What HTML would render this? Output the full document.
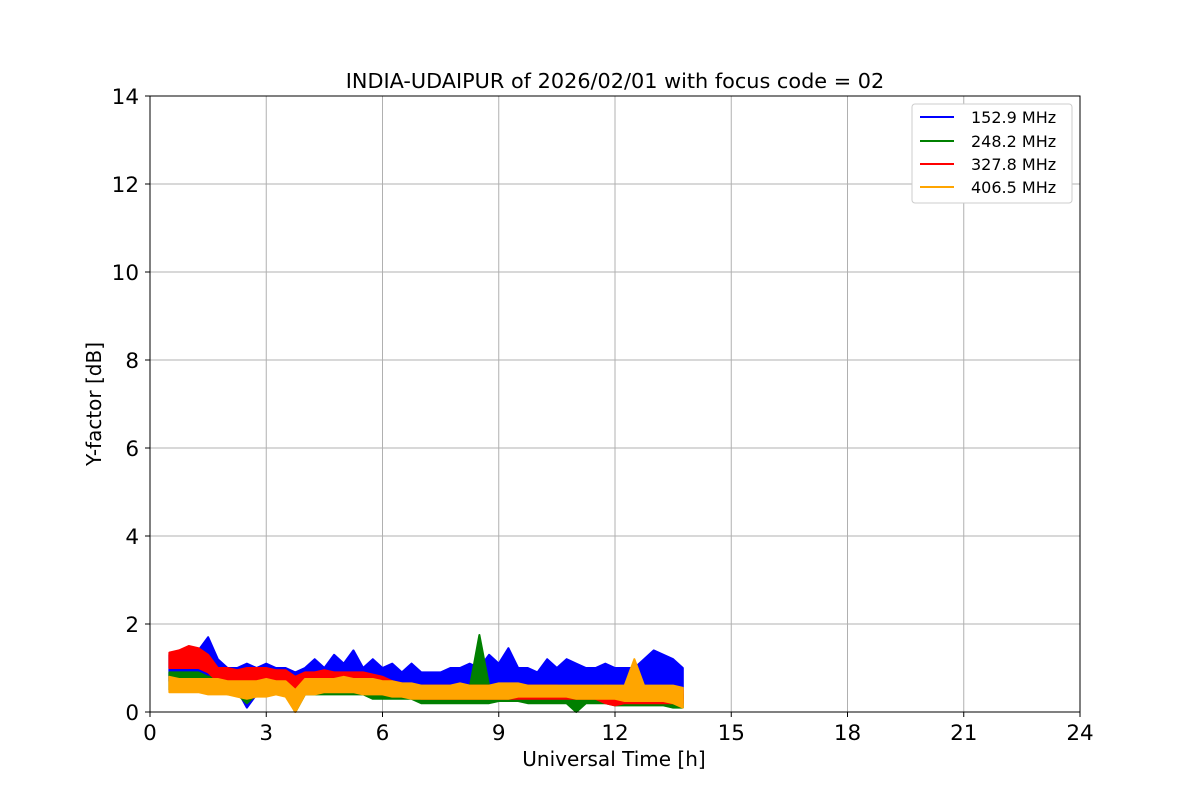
<!DOCTYPE html>
<html><head><meta charset="utf-8">
<style>
body{margin:0;background:#fff;}
svg{display:block;font-family:"DejaVu Sans","Liberation Sans",sans-serif;}
</style></head>
<body>
<svg id="chart" width="1200" height="800">
<text x="615" y="88" font-size="20.8" text-anchor="middle">INDIA-UDAIPUR of 2026/02/01 with focus code = 02</text>
<text x="614" y="766" font-size="20" text-anchor="middle">Universal Time [h]</text>
<text transform="translate(101,404) rotate(-90)" font-size="20" text-anchor="middle">Y-factor [dB]</text>
<g id="grid"></g><g id="ticks"></g><g id="series"></g>
<rect x="150" y="96" width="930" height="616" fill="none" stroke="#000" stroke-width="1"/>
<g>
<rect x="912" y="104" width="160" height="99" rx="3" fill="#fff" stroke="#ccc"/>
<line x1="920" x2="954" y1="117" y2="117" stroke="blue" stroke-width="2"/>
<text x="971" y="123" font-size="16">152.9 MHz</text>
<line x1="920" x2="954" y1="141" y2="141" stroke="green" stroke-width="2"/>
<text x="971" y="147" font-size="16">248.2 MHz</text>
<line x1="920" x2="954" y1="164" y2="164" stroke="red" stroke-width="2"/>
<text x="971" y="170" font-size="16">327.8 MHz</text>
<line x1="920" x2="954" y1="187" y2="187" stroke="orange" stroke-width="2"/>
<text x="971" y="193" font-size="16">406.5 MHz</text>
</g>
</svg>
<script>
const xTicks=[0,3,6,9,12,15,18,21,24];
const yTicks=[0,2,4,6,8,10,12,14];
const times=[0.5,0.75,1.0,1.25,1.5,1.75,2.0,2.25,2.5,2.75,3.0,3.25,3.5,3.75,4.0,4.25,4.5,4.75,5.0,5.25,5.5,5.75,6.0,6.25,6.5,6.75,7.0,7.25,7.5,7.75,8.0,8.25,8.5,8.75,9.0,9.25,9.5,9.75,10.0,10.25,10.5,10.75,11.0,11.25,11.5,11.75,12.0,12.25,12.5,12.75,13.0,13.25,13.5,13.75];
const blueHi=[1.3,1.2,1.3,1.4,1.7,1.2,1.0,1.0,1.1,1.0,1.1,1.0,1.0,0.9,1.0,1.2,1.0,1.3,1.1,1.4,1.0,1.2,1.0,1.1,0.9,1.1,0.9,0.9,0.9,1.0,1.0,1.1,1.0,1.3,1.1,1.45,1.0,1.0,0.9,1.2,1.0,1.2,1.1,1.0,1.0,1.1,1.0,1.0,1.0,1.2,1.4,1.3,1.2,1.0];
const blueLo=[0.7,0.7,0.7,0.7,0.7,0.6,0.6,0.5,0.1,0.4,0.5,0.5,0.5,0.0,0.5,0.5,0.6,0.6,0.6,0.6,0.6,0.5,0.5,0.5,0.5,0.5,0.4,0.4,0.4,0.4,0.4,0.4,0.5,0.5,0.5,0.5,0.5,0.5,0.5,0.5,0.5,0.5,0.5,0.4,0.4,0.4,0.4,0.4,0.4,0.4,0.4,0.4,0.4,0.3];
const greenHi=[0.9,0.9,0.9,0.9,0.8,0.8,0.8,0.75,0.75,0.8,0.8,0.8,0.8,0.6,0.7,0.7,0.7,0.7,0.7,0.7,0.7,0.7,0.6,0.6,0.6,0.55,0.5,0.5,0.5,0.5,0.5,0.55,1.75,0.6,0.6,0.6,0.6,0.5,0.5,0.5,0.5,0.5,0.5,0.5,0.5,0.5,0.5,0.5,0.45,0.45,0.45,0.45,0.45,0.4];
const greenLo=[0.5,0.5,0.5,0.5,0.5,0.5,0.4,0.4,0.2,0.4,0.4,0.4,0.4,0.0,0.4,0.4,0.4,0.4,0.4,0.4,0.4,0.3,0.3,0.3,0.3,0.3,0.2,0.2,0.2,0.2,0.2,0.2,0.2,0.2,0.25,0.25,0.25,0.2,0.2,0.2,0.2,0.2,0.0,0.2,0.2,0.2,0.15,0.15,0.15,0.15,0.15,0.15,0.1,0.1];
const redHi=[1.35,1.4,1.5,1.45,1.3,1.0,1.0,0.95,1.0,1.0,1.0,0.95,0.95,0.8,0.9,0.9,0.95,0.9,0.9,0.9,0.9,0.85,0.8,0.7,0.65,0.6,0.6,0.6,0.6,0.6,0.6,0.6,0.6,0.6,0.6,0.6,0.6,0.6,0.6,0.6,0.6,0.55,0.55,0.55,0.55,0.6,0.55,0.55,0.55,0.55,0.5,0.5,0.5,0.5];
const redLo=[1.0,1.0,1.0,1.0,0.9,0.7,0.7,0.7,0.6,0.7,0.7,0.7,0.7,0.0,0.6,0.6,0.6,0.6,0.6,0.6,0.55,0.5,0.4,0.4,0.35,0.35,0.3,0.3,0.3,0.3,0.3,0.3,0.3,0.3,0.3,0.3,0.3,0.3,0.3,0.3,0.3,0.3,0.3,0.3,0.3,0.2,0.15,0.2,0.2,0.2,0.2,0.2,0.2,0.2];
const orangeHi=[0.8,0.75,0.75,0.75,0.75,0.75,0.7,0.7,0.7,0.7,0.75,0.7,0.7,0.5,0.75,0.75,0.75,0.75,0.8,0.75,0.75,0.75,0.7,0.7,0.65,0.65,0.6,0.6,0.6,0.6,0.65,0.6,0.6,0.6,0.65,0.65,0.65,0.6,0.6,0.6,0.6,0.6,0.6,0.6,0.6,0.6,0.6,0.6,1.2,0.6,0.6,0.6,0.6,0.55];
const orangeLo=[0.45,0.45,0.45,0.45,0.4,0.4,0.4,0.35,0.3,0.35,0.35,0.4,0.35,0.0,0.4,0.4,0.45,0.45,0.45,0.45,0.4,0.4,0.4,0.35,0.35,0.3,0.3,0.3,0.3,0.3,0.3,0.3,0.3,0.3,0.3,0.3,0.35,0.35,0.35,0.35,0.35,0.35,0.3,0.3,0.3,0.3,0.3,0.25,0.25,0.25,0.25,0.25,0.2,0.1];
const NS='http://www.w3.org/2000/svg';
const X=v=>150+v/24*930, Y=v=>712-v/14*616;
const grid=document.getElementById('grid'), ticks=document.getElementById('ticks'), ser=document.getElementById('series');
function mk(tag,attrs,parent){const e=document.createElementNS(NS,tag);for(const k in attrs)e.setAttribute(k,attrs[k]);parent.appendChild(e);return e;}
xTicks.forEach(t=>{
  const g=mk('line',{x1:X(t),x2:X(t),y1:96,y2:712,stroke:'#b0b0b0','stroke-width':1},grid);
  
  
  mk('line',{x1:X(t),x2:X(t),y1:712,y2:717,stroke:'#000'},ticks);
  const l=mk('text',{x:X(t),y:740,'font-size':21.5,'text-anchor':'middle'},ticks);l.textContent=t;
  
  
});
yTicks.forEach(t=>{
  const g=mk('line',{x1:150,x2:1080,y1:Y(t),y2:Y(t),stroke:'#b0b0b0','stroke-width':1},grid);
  
  
  mk('line',{x1:145,x2:150,y1:Y(t),y2:Y(t),stroke:'#000'},ticks);
  const l=mk('text',{x:139,y:Y(t)+8,'font-size':21.5,'text-anchor':'end'},ticks);l.textContent=t;
  
  
});
function band(hi,lo,color,name){
  let pts=[];
  times.forEach((t,i)=>{pts.push(X(t)+','+Y(hi[i]));});
  for(let i=times.length-1;i>=0;i--)pts.push(X(times[i])+','+Y(lo[i]));
  const p=mk('polygon',{points:pts.join(' '),fill:color,stroke:color,'stroke-width':2,'stroke-linejoin':'round'},ser);
  
  
}
band(blueHi,blueLo,'blue','series-152-9-mhz');
band(greenHi,greenLo,'green','series-248-2-mhz');
band(redHi,redLo,'red','series-327-8-mhz');
band(orangeHi,orangeLo,'orange','series-406-5-mhz');
</script>
</body></html>
